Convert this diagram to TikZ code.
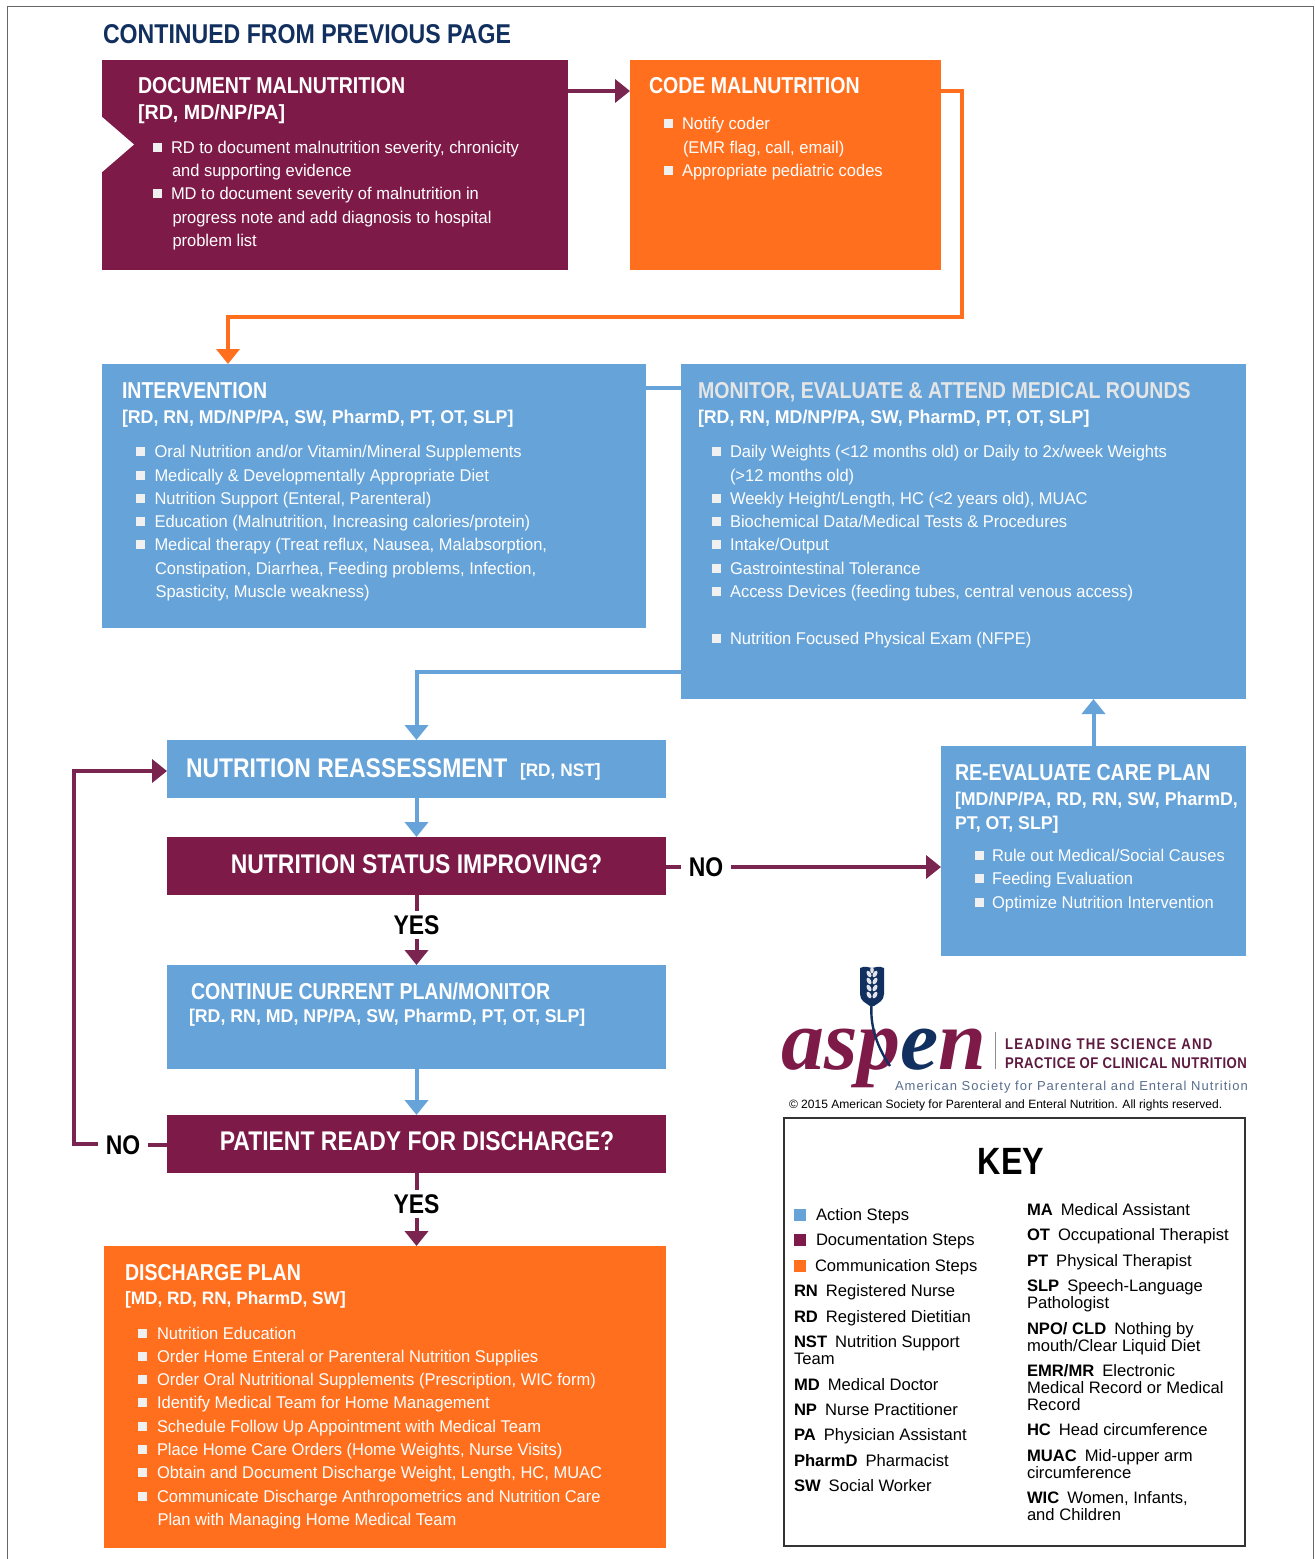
\documentclass[tikz,border=0pt]{standalone}
\usepackage{fontspec}
\usetikzlibrary{arrows.meta}
\setmainfont{Liberation Sans}
\newfontfamily\bodyf[FakeStretch=0.97]{Liberation Sans}
\newfontfamily\headf[FakeStretch=0.85]{Liberation Sans}
\newfontfamily\rolef[FakeStretch=0.96]{Liberation Sans}
\newfontfamily\keyf{Liberation Sans}
\newfontfamily\logof{Liberation Serif}
\definecolor{maroon}{HTML}{7E1A48}
\definecolor{maroonline}{HTML}{7A2450}
\definecolor{orangebox}{HTML}{FF6F1E}
\definecolor{bluebox}{HTML}{66A3D9}
\definecolor{navy}{HTML}{12305F}
\definecolor{tagline}{HTML}{5E1A40}
\definecolor{society}{HTML}{5A6E8E}
\newcounter{tn}
\tikzset{
  box/.style={anchor=north west,inner sep=0pt,outer sep=0pt,draw=none},
  lbl/.style={anchor=base west,inner sep=0pt,outer sep=0pt},
  wt/.style={lbl,text=white},
  body/.style={wt,font=\bodyf\fontsize{17}{20}\selectfont},
  head/.style={wt,font=\headf\bfseries\fontsize{23}{27}\selectfont},
  roles/.style={wt,font=\rolef\bfseries\fontsize{18.5}{22}\selectfont},
  big/.style={wt,font=\headf\bfseries\fontsize{27}{31}\selectfont},
  key/.style={lbl,text=black,font=\keyf\fontsize{16.6}{20}\selectfont},
  ans/.style={inner sep=4pt,outer sep=0pt,text=black,font=\headf\bfseries\fontsize{27}{30}\selectfont},
  conn/.style={line width=4pt,-{Triangle[width=23pt,length=15pt]},line join=miter},
  plainconn/.style={line width=4pt},
}
\newcommand{\tx}[4]{\stepcounter{tn}\node[#1,name=t\arabic{tn}] at (#2,#3) {#4};}
\newcommand{\bul}[4]{\fill[white!94!black] (#1-4.5,#2-10.5) rectangle ++(9,9);\tx{body}{#3}{#2}{#4}}
\newcommand{\sq}[3]{\fill[#3] (#1,#2-11) rectangle ++(12,12);}
\newcommand{\kl}[1]{\textbf{#1}\hspace{8pt}}
\begin{document}
\begin{tikzpicture}[x=1pt,y=-1pt]
\useasboundingbox (0,0) rectangle (1315,1559);
\fill[white] (0,0) rectangle (1315,1559);
\draw[line width=1pt,black!60] (7,1559) -- (7,6) -- (1313,6) -- (1313,1559);

\tx{lbl,text=navy,font=\headf\bfseries\fontsize{27.2}{30}\selectfont}{103}{43}{CONTINUED FROM PREVIOUS PAGE}

% boxes
\node[box,fill=maroon,minimum width=466pt,minimum height=210pt] (doc) at (102,60) {};
\fill[white] (101,116) -- (134,144.5) -- (101,173) -- cycle;
\node[box,fill=orangebox,minimum width=311pt,minimum height=210pt] (code) at (630,60) {};
\node[box,fill=bluebox,minimum width=544pt,minimum height=264pt] (interv) at (102,364) {};
\node[box,fill=bluebox,minimum width=565pt,minimum height=335pt] (monitor) at (681,364) {};
\node[box,fill=bluebox,minimum width=305pt,minimum height=210pt] (reeval) at (941,746) {};
\node[box,fill=bluebox,minimum width=499pt,minimum height=58pt] (reass) at (167,740) {};
\node[box,fill=maroon,minimum width=499pt,minimum height=58pt] (status) at (167,837) {};
\node[box,fill=bluebox,minimum width=499pt,minimum height=104pt] (cont) at (167,965) {};
\node[box,fill=maroon,minimum width=499pt,minimum height=58pt] (patient) at (167,1115) {};
\node[box,fill=orangebox,minimum width=562pt,minimum height=302pt] (disch) at (104,1246) {};

% answer labels
\node[ans] (yes1) at (416.5,925) {YES};
\node[ans] (yes2) at (416.5,1204) {YES};
\node[ans,inner xsep=8pt] (no1) at (706,867) {NO};
\node[ans,inner xsep=8pt] (no2) at (123,1145) {NO};

% connectors
\draw[conn,maroonline] ([yshift=-31pt]doc.north east) -- ([yshift=-31pt]code.north west);
\coordinate (c1) at (962,91);
\coordinate (c2) at (962,317);
\coordinate (c3) at (228,317);
\draw[conn,orangebox] ([yshift=-31pt]code.north east) -- (c1) -- (c2) -- (c3) -- (c3 |- interv.north);
\draw[plainconn,bluebox] ([yshift=-24pt]interv.north east) -- ([yshift=-24pt]monitor.north west);
\coordinate (m1) at (681,672);
\draw[conn,bluebox] (m1) -- (m1 -| reass.north) -- (reass.north);
\draw[conn,bluebox] (reeval.north) -- (reeval.north |- monitor.south);
\draw[conn,bluebox] (reass.south) -- (status.north);
\draw[plainconn,maroonline] (status.south) -- (yes1.north);
\draw[conn,maroonline] (yes1.south) -- (cont.north);
\draw[plainconn,maroonline] (status.east |- no1.west) -- (no1.west);
\draw[conn,maroonline] (no1.east) -- (no1.east -| reeval.west);
\draw[conn,bluebox] (cont.south) -- (patient.north);
\draw[plainconn,maroonline] (patient.south) -- (yes2.north);
\draw[conn,maroonline] (yes2.south) -- (yes2.south |- disch.north);
\draw[plainconn,maroonline] (patient.west |- no2.east) -- (no2.east);
\coordinate (l1) at (74,1144);
\coordinate (l2) at (74,771);
\draw[conn,maroonline] (no2.west |- l1) -- (l1) -- (l2) -- (l2 -| reass.west);

% document malnutrition
\tx{head}{138}{93}{DOCUMENT MALNUTRITION}
\tx{roles,font=\rolef\bfseries\fontsize{20.5}{24}\selectfont}{138}{119}{[RD, MD/NP/PA]}
\bul{157}{153}{171}{RD to document malnutrition severity, chronicity}
\tx{body}{172}{176}{and supporting evidence}
\bul{157}{199}{171}{MD to document severity of malnutrition in}
\tx{body}{172.5}{223}{progress note and add diagnosis to hospital}
\tx{body}{172.5}{246}{problem list}

% code malnutrition
\tx{head}{649}{93}{CODE MALNUTRITION}
\bul{668}{129}{682}{Notify coder}
\tx{body}{683}{153}{(EMR flag, call, email)}
\bul{668}{176}{682}{Appropriate pediatric codes}

% intervention
\tx{head}{122}{398}{INTERVENTION}
\tx{roles}{122}{423}{[RD, RN, MD/NP/PA, SW, PharmD, PT, OT, SLP]}
\bul{140}{457}{154.5}{Oral Nutrition and/or Vitamin/Mineral Supplements}
\bul{140}{481}{154.5}{Medically \& Developmentally Appropriate Diet}
\bul{140}{504}{154.5}{Nutrition Support (Enteral, Parenteral)}
\bul{140}{527}{154.5}{Education (Malnutrition, Increasing calories/protein)}
\bul{140}{550}{154.5}{Medical therapy (Treat reflux, Nausea, Malabsorption,}
\tx{body}{155}{574}{Constipation, Diarrhea, Feeding problems, Infection,}
\tx{body}{155.5}{597}{Spasticity, Muscle weakness)}

% monitor
\tx{head,text=white!90!black}{698}{398}{MONITOR, EVALUATE \& ATTEND MEDICAL ROUNDS}
\tx{roles}{698}{423}{[RD, RN, MD/NP/PA, SW, PharmD, PT, OT, SLP]}
\bul{716}{457}{730}{Daily Weights (<12 months old) or Daily to 2x/week Weights}
\tx{body}{730}{481}{(>12 months old)}
\bul{716}{504}{730}{Weekly Height/Length, HC (<2 years old), MUAC}
\bul{716}{527}{730}{Biochemical Data/Medical Tests \& Procedures}
\bul{716}{550}{730}{Intake/Output}
\bul{716}{574}{730}{Gastrointestinal Tolerance}
\bul{716}{597}{730}{Access Devices (feeding tubes, central venous access)}
\bul{716}{644}{730}{Nutrition Focused Physical Exam (NFPE)}

% re-evaluate
\tx{head}{955}{780}{RE-EVALUATE CARE PLAN}
\tx{roles}{955}{805}{[MD/NP/PA, RD, RN, SW, PharmD,}
\tx{roles}{955}{829}{PT, OT, SLP]}
\bul{979}{861}{992}{Rule out Medical/Social Causes}
\bul{979}{884}{992}{Feeding Evaluation}
\bul{979}{908}{992}{Optimize Nutrition Intervention}

% reassessment and flow boxes
\tx{big}{186}{777}{NUTRITION REASSESSMENT}
\tx{roles,font=\rolef\bfseries\fontsize{18}{22}\selectfont}{520}{776}{[RD, NST]}
\tx{big,anchor=base}{416.5}{873.5}{NUTRITION STATUS IMPROVING?}
\tx{head}{191}{999}{CONTINUE CURRENT PLAN/MONITOR}
\tx{roles}{189}{1022}{[RD, RN, MD, NP/PA, SW, PharmD, PT, OT, SLP]}
\tx{big,anchor=base}{417}{1150.5}{PATIENT READY FOR DISCHARGE?}

% discharge
\tx{head}{125}{1280}{DISCHARGE PLAN}
\tx{roles,font=\rolef\bfseries\fontsize{18}{21}\selectfont}{125}{1304}{[MD, RD, RN, PharmD, SW]}
\bul{142}{1339}{157}{Nutrition Education}
\bul{142}{1362}{157}{Order Home Enteral or Parenteral Nutrition Supplies}
\bul{142}{1385}{157}{Order Oral Nutritional Supplements (Prescription, WIC form)}
\bul{142}{1408}{157}{Identify Medical Team for Home Management}
\bul{142}{1432}{157}{Schedule Follow Up Appointment with Medical Team}
\bul{142}{1455}{157}{Place Home Care Orders (Home Weights, Nurse Visits)}
\bul{142}{1478}{157}{Obtain and Document Discharge Weight, Length, HC, MUAC}
\bul{142}{1502}{157}{Communicate Discharge Anthropometrics and Nutrition Care}
\tx{body}{157.5}{1525}{Plan with Managing Home Medical Team}

% logo
\fill[navy] (860,968) .. controls (866,965) and (868,968) .. (872,968) .. controls (876,968) and (878,965) .. (884,968) -- (884,994) .. controls (884,1001) and (878,1003) .. (874,1006) -- (870,1006) .. controls (866,1003) and (860,1001) .. (860,994) -- cycle;
\foreach \yy in {974,981,988,995} {
  \fill[white!88!navy,rotate around={30:(869,\yy)}] (869,\yy) ellipse (2pt and 3.6pt);
  \fill[white!88!navy,rotate around={-30:(875,\yy)}] (875,\yy) ellipse (2pt and 3.6pt);
}
\fill[white!88!navy] (872,970) ellipse (1.8pt and 3.4pt);
\node[lbl,text=maroon,font=\logof\bfseries\itshape\fontsize{86}{90}\selectfont] (logoa) at (781,1069) {asp};
\node[lbl,font=\logof\bfseries\itshape\fontsize{86}{90}\selectfont] (logob) at (logoa.base east) {\textcolor{navy}{e}\textcolor{maroon}{n}};
\draw[navy,line width=2.4pt] (871.5,1005) .. controls (870,1028) and (878,1048) .. (890,1066);
\draw[black!45,line width=.8pt] (995,1032) -- (995,1069);
\tx{lbl,text=tagline,font=\headf\bfseries\fontsize{15.5}{18}\selectfont\addfontfeature{LetterSpace=8}}{1005}{1049}{LEADING THE SCIENCE AND}
\tx{lbl,text=tagline,font=\headf\bfseries\fontsize{15.5}{18}\selectfont\addfontfeature{LetterSpace=3}}{1005}{1068}{PRACTICE OF CLINICAL NUTRITION}
\tx{lbl,text=society,font=\keyf\fontsize{13}{16}\selectfont\addfontfeature{LetterSpace=7.9}}{895}{1090}{American Society for Parenteral and Enteral Nutrition}
\tx{lbl,text=black,font=\keyf\fontsize{12.05}{15}\selectfont}{789}{1108.5}{© 2015 American Society for Parenteral and Enteral Nutrition. All rights reserved.}

% key
\node[box,draw=black!80,line width=2.6pt,minimum width=461pt,minimum height=428pt] (keybox) at (784,1118) {};
\tx{lbl,anchor=base,text=black,font=\headf\bfseries\fontsize{38}{42}\selectfont}{1011}{1174}{KEY}
\sq{794}{1220}{bluebox}\tx{key}{816}{1220}{Action Steps}
\sq{794}{1245}{maroon}\tx{key}{816}{1245}{Documentation Steps}
\sq{794}{1271}{orangebox}\tx{key}{815}{1271}{Communication Steps}
\tx{key}{794}{1296}{\kl{RN}Registered Nurse}
\tx{key}{794}{1322}{\kl{RD}Registered Dietitian}
\tx{key}{794}{1347}{\kl{NST}Nutrition Support}
\tx{key}{794}{1364}{Team}
\tx{key}{794}{1390}{\kl{MD}Medical Doctor}
\tx{key}{794}{1415}{\kl{NP}Nurse Practitioner}
\tx{key}{794}{1440}{\kl{PA}Physician Assistant}
\tx{key}{794}{1466}{\kl{PharmD}Pharmacist}
\tx{key}{794}{1491}{\kl{SW}Social Worker}
\tx{key}{1027}{1215}{\kl{MA}Medical Assistant}
\tx{key}{1027}{1240}{\kl{OT}Occupational Therapist}
\tx{key}{1027}{1266}{\kl{PT}Physical Therapist}
\tx{key}{1027}{1291}{\kl{SLP}Speech-Language}
\tx{key}{1027}{1308}{Pathologist}
\tx{key}{1027}{1334}{\kl{NPO/ CLD}Nothing by}
\tx{key}{1027}{1351}{mouth/Clear Liquid Diet}
\tx{key}{1027}{1376}{\kl{EMR/MR}Electronic}
\tx{key}{1027}{1393}{Medical Record or Medical}
\tx{key}{1027}{1410}{Record}
\tx{key}{1027}{1435}{\kl{HC}Head circumference}
\tx{key}{1027}{1461}{\kl{MUAC}Mid-upper arm}
\tx{key}{1027}{1478}{circumference}
\tx{key}{1027}{1503}{\kl{WIC}Women, Infants,}
\tx{key}{1027}{1520}{and Children}
\end{tikzpicture}
\end{document}
